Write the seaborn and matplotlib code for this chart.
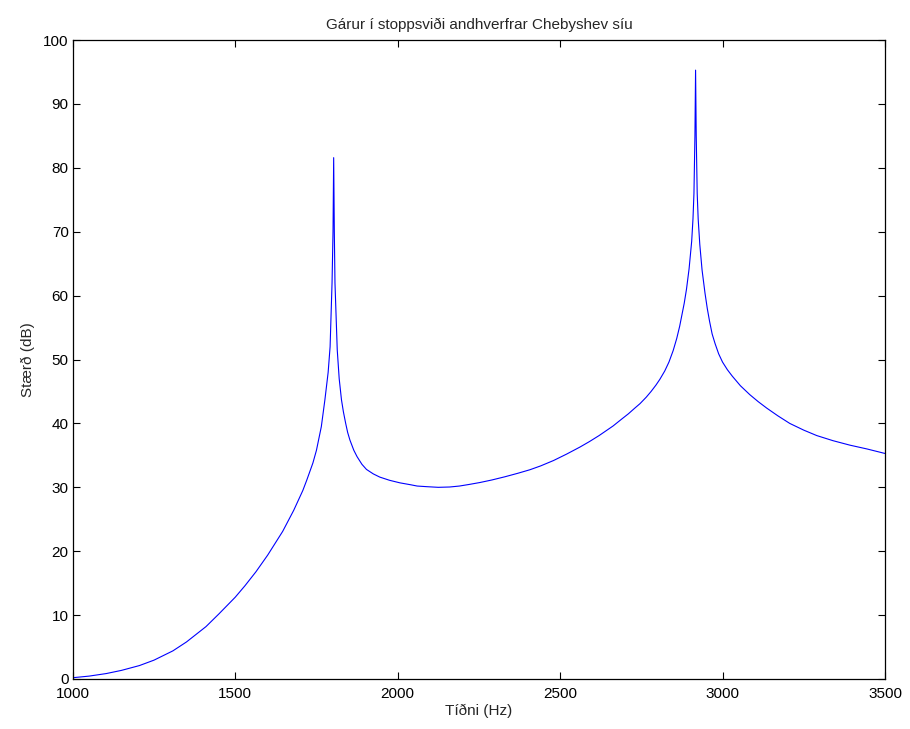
import matplotlib
matplotlib.use("Agg")
import matplotlib.pyplot as plt
import pandas as pd
import seaborn as sns

# values
freq_hz = [1000, 1050, 1103, 1150, 1205, 1250, 1308, 1350, 1410, 1450, 1500,
           1530, 1564, 1600, 1646, 1680, 1708, 1720, 1739, 1750, 1765, 1776,
           1786, 1792, 1798, 1801, 1803, 1805, 1807, 1814, 1820, 1827, 1833,
           1840, 1846, 1853, 1865, 1875, 1890, 1904, 1925, 1945, 1975, 2007,
           2040, 2060, 2090, 2125, 2160, 2190, 2220, 2253, 2290, 2330, 2370,
           2407, 2440, 2480, 2520, 2561, 2590, 2620, 2663, 2690, 2710, 2730,
           2746, 2765, 2780, 2795, 2807, 2822, 2835, 2848, 2859, 2868, 2875,
           2882, 2889, 2897, 2905, 2909, 2912, 2915, 2917, 2919, 2922, 2925,
           2930, 2937, 2946, 2953, 2960, 2968, 2977, 2988, 3000, 3015, 3030,
           3055, 3084, 3110, 3136, 3170, 3207, 3250, 3290, 3340, 3392, 3445,
           3500]
mag_db = [0.2, 0.45, 0.85, 1.35, 2.1, 2.95, 4.4, 5.8, 8.2, 10.2, 12.8,
          14.6, 16.8, 19.4, 23.1, 26.4, 29.5, 31.1, 33.8, 35.8, 39.5, 43.7,
          48.0, 52.0, 62.0, 70.0, 81.6, 70.0, 62.0, 51.5, 47.0, 43.7, 41.8,
          40.0, 38.6, 37.4, 35.8, 34.8, 33.6, 32.8, 32.1, 31.6, 31.1, 30.7,
          30.4, 30.2, 30.1, 30.0, 30.05, 30.2, 30.45, 30.75, 31.15, 31.65, 32.2,
          32.75, 33.35, 34.2, 35.2, 36.3, 37.15, 38.1, 39.6, 40.7, 41.5, 42.4,
          43.1, 44.1, 45.0, 46.0, 46.9, 48.2, 49.6, 51.4, 53.3, 55.2, 57.0,
          58.8, 61.0, 64.2, 68.5, 72.0, 76.0, 85.0, 95.3, 85.0, 76.0, 72.0,
          68.0, 64.0, 60.4, 58.0, 56.0, 54.0, 52.5, 50.9, 49.6, 48.4, 47.4,
          45.9, 44.5, 43.4, 42.4, 41.2, 40.0, 38.95, 38.1, 37.3, 36.6, 36.0,
          35.3]

x_ticks = [1000, 1500, 2000, 2500, 3000, 3500]
y_ticks = list(range(0, 101, 10))

sns.set_theme(style="white", rc={
    "xtick.direction": "in", "ytick.direction": "in",
    "xtick.top": True, "ytick.right": True,
    "xtick.bottom": True, "ytick.left": True,
    "xtick.major.size": 5, "ytick.major.size": 5,
    "xtick.major.width": 0.8, "ytick.major.width": 0.8,
    "xtick.major.pad": 6, "ytick.major.pad": 3,
    "axes.edgecolor": "black", "axes.linewidth": 0.9,
})
plt.rcParams["font.family"] = ["Liberation Sans", "DejaVu Sans"]

df = pd.DataFrame({"f": freq_hz, "db": mag_db})

fig = plt.figure(figsize=(9.1, 7.29), dpi=100)
ax = fig.add_axes([0.080, 0.0686, 0.8925, 0.8764])
sns.lineplot(data=df, x="f", y="db", color="#0000ff", linewidth=0.8, ax=ax)

ax.set_xlim(1000, 3500)
ax.set_ylim(0, 100)
ax.set_xticks(x_ticks)
ax.set_yticks(y_ticks)
ax.tick_params(labelsize=11, colors="black")
ax.set_title("Gárur í stoppsviði andhverfrar Chebyshev síu", fontsize=11, pad=8)
ax.set_xlabel("Tíðni (Hz)", fontsize=11, labelpad=2)
ax.set_ylabel("Stærð (dB)", fontsize=11, labelpad=6)

fig.savefig("out.png", dpi=100)
